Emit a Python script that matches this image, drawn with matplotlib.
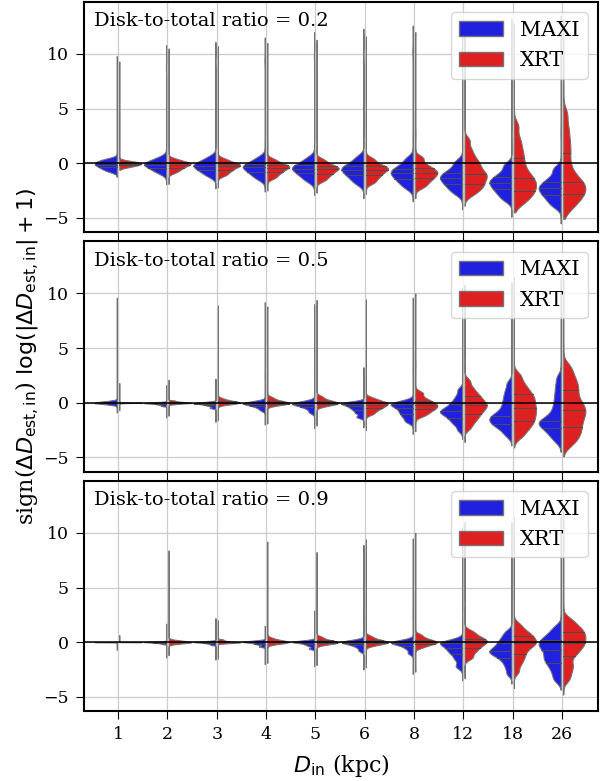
import matplotlib
matplotlib.use("Agg")
import matplotlib.pyplot as plt
from matplotlib.patches import Patch
import numpy as np
import pandas as pd
import seaborn as sns

DISTANCES = [1, 2, 3, 4, 5, 6, 8, 12, 18, 26]
RATIOS = [0.2, 0.5, 0.9]
INSTRUMENTS = ["MAXI", "XRT"]

# Evenly spaced quantiles of sign(dD) log(|dD| + 1) per input distance
# (deciles, or 5% steps for the wider distributions), plus the sparse
# tail values (extremes and the few diverging estimates).
MAXI_02_CORE = [
    [-0.74, -0.53, -0.37, -0.24, -0.12, 0.0, 0.1, 0.23, 0.4],
    [-0.89, -0.62, -0.43, -0.27, -0.12, -0.03, 0.08, 0.25, 0.52],
    [-1.15, -0.84, -0.61, -0.43, -0.25, -0.14, 0.0, 0.21, 0.55],
    [-1.4, -1.05, -0.8, -0.58, -0.38, -0.26, -0.1, 0.13, 0.51],
    [-1.59, -1.21, -0.94, -0.71, -0.5, -0.37, -0.19, 0.05, 0.47],
    [-1.82, -1.4, -1.09, -0.84, -0.6, -0.45, -0.24, 0.04, 0.53],
    [-2.18, -1.74, -1.42, -1.15, -0.9, -0.72, -0.49, -0.16, 0.39],
    [-2.69, -2.23, -1.9, -1.61, -1.35, -1.15, -0.89, -0.52, 0.1],
    [-3.27, -2.77, -2.4, -2.09, -1.8, -1.58, -1.29, -0.88, -0.19],
    [-3.84, -3.31, -2.92, -2.6, -2.3, -2.06, -1.74, -1.29, -0.53],
]
MAXI_02_TAIL = [
    [-1.25, 0.8, 9.8],
    [-1.9, 1.2, 8.6, 8.7, 8.8, 10.8],
    [-2.3, 1.4, 9.2, 9.3, 9.4, 11.1],
    [-2.6, 1.6, 9.3, 9.4, 9.5, 11.5],
    [-2.9, 1.8, 9.6, 9.75, 9.9, 12.0],
    [-3.2, 2.0, 9.8, 9.9, 10.0, 12.3],
    [-3.5, 2.2, 10.1, 10.2, 10.3, 12.6],
    [-4.2, 2.4, 10.4, 10.5, 12.9],
    [-4.9, 2.6, 10.8, 13.2],
    [-5.5, 2.8, 11.0, 13.5],
]
XRT_02_CORE = [
    [-0.36, -0.25, -0.18, -0.11, -0.05, 0.0, 0.05, 0.12, 0.2],
    [-0.82, -0.58, -0.41, -0.26, -0.12, -0.05, 0.03, 0.16, 0.36],
    [-1.08, -0.8, -0.59, -0.41, -0.25, -0.17, -0.06, 0.1, 0.36],
    [-1.32, -1.0, -0.77, -0.58, -0.4, -0.3, -0.17, 0.01, 0.32],
    [-1.55, -1.21, -0.96, -0.75, -0.55, -0.44, -0.28, -0.07, 0.29],
    [-1.75, -1.36, -1.07, -0.83, -0.6, -0.47, -0.29, -0.05, 0.37],
    [-2.12, -1.7, -1.39, -1.14, -0.9, -0.71, -0.47, -0.12, 0.47],
    [-2.9, -2.55, -2.3, -2.1, -1.9, -1.7, -1.5, -1.3, -1.15, -1.0,
     -0.8, -0.6, -0.35, -0.1, 0.15, 0.45, 0.85, 1.35, 2.1],
    [-3.7, -3.3, -3.0, -2.75, -2.5, -2.3, -2.05, -1.85, -1.62, -1.4,
     -1.15, -0.85, -0.45, 0.0, 0.5, 1.0, 1.6, 2.3, 3.4],
    [-4.2, -3.7, -3.35, -3.1, -2.85, -2.6, -2.35, -2.15, -1.95, -1.75,
     -1.45, -1.1, -0.6, 0.1, 0.9, 1.6, 2.4, 3.3, 4.5],
]
XRT_02_TAIL = [
    [-0.6, 0.5, 9.3],
    [-1.9, 1.0, 10.5],
    [-2.2, 1.2, 10.7],
    [-2.5, 1.5, 11.0],
    [-2.7, 1.8, 11.3],
    [-2.8, 2.2, 11.6],
    [-3.2, 2.6, 12.0],
    [-3.9, 3.5, 12.4],
    [-4.5, 4.5, 5.5, 12.8],
    [-5.1, 5.5, 7.0, 13.2],
]

MAXI_05_CORE = [
    [-0.06, -0.03, -0.015, -0.006, 0.0, 0.004, 0.01, 0.02, 0.04],
    [-0.29, -0.19, -0.13, -0.08, -0.05, -0.04, -0.02, 0.01, 0.05],
    [-0.48, -0.31, -0.21, -0.14, -0.08, -0.06, -0.03, 0.01, 0.08],
    [-0.66, -0.42, -0.28, -0.18, -0.1, -0.07, -0.02, 0.04, 0.14],
    [-0.87, -0.56, -0.38, -0.25, -0.15, -0.11, -0.05, 0.03, 0.17],
    [-1.3, -0.95, -0.7, -0.5, -0.35, -0.2, -0.1, -0.03, 0.08],
    [-1.7, -1.3, -1.0, -0.75, -0.5, -0.3, -0.15, -0.05, 0.15],
    [-2.5, -2.05, -1.8, -1.6, -1.4, -1.25, -1.1, -0.98, -0.88, -0.8,
     -0.7, -0.58, -0.45, -0.3, -0.12, 0.1, 0.35, 0.7, 1.2],
    [-3.0, -2.6, -2.3, -2.1, -1.95, -1.8, -1.65, -1.5, -1.38, -1.25,
     -1.1, -0.9, -0.65, -0.35, 0.0, 0.35, 0.75, 1.2, 1.8],
    [-3.5, -3.1, -2.8, -2.55, -2.35, -2.15, -2.0, -1.85, -1.75, -1.65,
     -1.45, -1.2, -0.9, -0.5, -0.05, 0.45, 1.0, 1.6, 2.3],
]
MAXI_05_TAIL = [
    [-0.9, 0.4, 9.6],
    [-1.35, 1.6],
    [-1.75, 2.2],
    [-2.0, 2.5, 9.2],
    [-2.3, 2.8, 9.0],
    [-2.25, 3.25],
    [-2.85, 3.0, 9.6],
    [-3.3, 2.5, 10.5],
    [-3.9, 2.8, 11.0],
    [-4.5, 3.2, 11.5],
]
XRT_05_CORE = [
    [-0.02, -0.01, -0.005, -0.002, 0.0, 0.002, 0.005, 0.01, 0.02],
    [-0.13, -0.07, -0.04, -0.02, 0.0, 0.03, 0.06, 0.11, 0.19],
    [-0.14, -0.07, -0.03, 0.0, 0.02, 0.07, 0.13, 0.22, 0.37],
    [-0.24, -0.14, -0.08, -0.03, 0.0, 0.07, 0.15, 0.28, 0.48],
    [-0.32, -0.18, -0.1, -0.04, 0.0, 0.08, 0.18, 0.32, 0.56],
    [-1.0, -0.7, -0.5, -0.35, -0.2, -0.08, 0.02, 0.15, 0.4],
    [-1.15, -0.84, -0.61, -0.43, -0.25, -0.1, 0.11, 0.39, 0.88],
    [-2.3, -1.85, -1.55, -1.3, -1.07, -0.88, -0.7, -0.52, -0.38, -0.25,
     -0.1, 0.05, 0.22, 0.4, 0.6, 0.82, 1.1, 1.45, 2.0],
    [-3.1, -2.6, -2.25, -1.95, -1.7, -1.45, -1.2, -0.95, -0.72, -0.5,
     -0.25, 0.0, 0.25, 0.5, 0.75, 1.05, 1.4, 1.85, 2.5],
    [-3.8, -3.3, -2.9, -2.55, -2.2, -1.85, -1.5, -1.2, -0.9, -0.65,
     -0.35, -0.05, 0.3, 0.75, 1.2, 1.6, 2.05, 2.6, 3.3],
]
XRT_05_TAIL = [
    [-0.7, 1.8],
    [-1.2, 2.1],
    [-1.6, 8.9],
    [-1.9, 8.8],
    [-2.1, 9.4],
    [-2.5, 9.45],
    [-2.6, 3.5, 10.0],
    [-3.6, 3.8, 10.8],
    [-4.1, 4.5, 11.5],
    [-4.9, 5.0, 12.0],
]

MAXI_09_CORE = [
    [-0.004, -0.002, -0.001, 0.0, 0.0, 0.0, 0.001, 0.002, 0.004],
    [-0.16, -0.09, -0.05, -0.02, 0.0, 0.01, 0.02, 0.04, 0.06],
    [-0.24, -0.14, -0.08, -0.03, 0.0, 0.01, 0.03, 0.06, 0.1],
    [-0.4, -0.23, -0.13, -0.06, 0.0, 0.02, 0.05, 0.09, 0.16],
    [-0.58, -0.34, -0.2, -0.1, -0.02, 0.01, 0.04, 0.09, 0.17],
    [-0.77, -0.46, -0.28, -0.15, -0.05, -0.02, 0.03, 0.09, 0.19],
    [-0.99, -0.61, -0.38, -0.22, -0.1, -0.06, 0.0, 0.08, 0.22],
    [-2.2, -1.55, -1.1, -0.8, -0.55, -0.3, -0.12, 0.0, 0.15],
    [-2.9, -2.4, -2.0, -1.7, -1.45, -1.28, -1.12, -1.0, -0.9, -0.8,
     -0.68, -0.55, -0.4, -0.22, -0.05, 0.15, 0.38, 0.65, 1.0],
    [-3.5, -3.0, -2.55, -2.2, -1.9, -1.65, -1.42, -1.2, -0.95, -0.7,
     -0.5, -0.32, -0.15, 0.02, 0.2, 0.4, 0.65, 0.95, 1.4],
]
MAXI_09_TAIL = [
    [-0.7],
    [-1.4, 1.7],
    [-1.6, 2.2],
    [-2.0, 1.5],
    [-2.2, 2.9],
    [-2.5, 2.5, 8.9],
    [-2.9, 2.5, 9.5],
    [-3.5, 2.5, 10.5],
    [-3.8, 2.0, 11.0],
    [-4.35, 2.2, 11.5],
]
XRT_09_CORE = [
    [-0.004, -0.002, -0.001, 0.0, 0.0, 0.0, 0.001, 0.002, 0.004],
    [-0.08, -0.05, -0.03, -0.01, 0.0, 0.02, 0.05, 0.09, 0.16],
    [-0.1, -0.06, -0.03, -0.01, 0.0, 0.03, 0.08, 0.14, 0.24],
    [-0.14, -0.07, -0.03, 0.0, 0.02, 0.07, 0.13, 0.22, 0.37],
    [-0.22, -0.12, -0.06, -0.01, 0.02, 0.08, 0.16, 0.28, 0.47],
    [-0.3, -0.16, -0.08, -0.02, 0.02, 0.09, 0.18, 0.31, 0.53],
    [-0.46, -0.26, -0.13, -0.05, 0.02, 0.11, 0.22, 0.39, 0.66],
    [-1.4, -0.9, -0.55, -0.28, -0.05, 0.12, 0.3, 0.55, 0.95],
    [-2.7, -2.1, -1.7, -1.4, -1.1, -0.85, -0.6, -0.4, -0.25, -0.12,
     0.02, 0.15, 0.3, 0.45, 0.6, 0.78, 0.98, 1.25, 1.65],
    [-3.4, -2.8, -2.3, -1.9, -1.3, -1.0, -0.7, -0.45, -0.25, -0.05,
     0.15, 0.35, 0.55, 0.75, 0.95, 1.15, 1.4, 1.7, 2.1],
]
XRT_09_TAIL = [
    [0.65],
    [-1.2, 8.4],
    [-1.5, 2.0],
    [-1.9, 9.2],
    [-2.1, 8.25],
    [-2.3, 9.4],
    [-2.7, 10.0],
    [-3.3, 3.5, 11.0],
    [-4.2, 3.0, 11.5],
    [-4.8, 3.2, 12.0],
]

PANELS = [
    (MAXI_02_CORE, MAXI_02_TAIL, XRT_02_CORE, XRT_02_TAIL),
    (MAXI_05_CORE, MAXI_05_TAIL, XRT_05_CORE, XRT_05_TAIL),
    (MAXI_09_CORE, MAXI_09_TAIL, XRT_09_CORE, XRT_09_TAIL),
]

# each quantile stands for this many estimates, each tail value for one
CORE_WEIGHT = 60

COLORS = ["blue", "red"]
LINE_GRAY = "0.45"


def build_frame(cores, tails, instrument):
    frames = []
    for d, core, tail in zip(DISTANCES, cores, tails):
        vals = np.concatenate([np.repeat(core, CORE_WEIGHT), tail])
        frames.append(pd.DataFrame({"D": str(d), "value": vals, "inst": instrument}))
    return pd.concat(frames, ignore_index=True)


plt.rcParams["font.family"] = "serif"
plt.rcParams["font.size"] = 12.5
for axis in ("xtick", "ytick"):
    plt.rcParams[f"{axis}.major.size"] = 6
    plt.rcParams[f"{axis}.major.pad"] = 5

fig, axes = plt.subplots(3, 1, figsize=(6.06, 7.81), dpi=100, sharex=True)
fig.subplots_adjust(left=84 / 606, right=598 / 606, top=779 / 781,
                    bottom=70 / 781, hspace=0.041)

for ax, ratio, (mc, mt, xc, xt) in zip(axes, RATIOS, PANELS):
    df = pd.concat([build_frame(mc, mt, "MAXI"), build_frame(xc, xt, "XRT")],
                   ignore_index=True)
    sns.violinplot(data=df, x="D", y="value", hue="inst",
                   order=[str(d) for d in DISTANCES], hue_order=INSTRUMENTS,
                   split=True, inner="quart", palette=COLORS,
                   density_norm="width", cut=0, width=1.0, gap=0.1,
                   linewidth=0.75, linecolor=LINE_GRAY, bw_adjust=1.0,
                   legend=False, ax=ax)
    # quartile lines drawn solid and thin
    for line in ax.lines:
        line.set_linestyle("-")
        line.set_linewidth(0.7)
        line.set_color("0.3")
    ax.grid(True, color="0.8", lw=0.9)
    ax.set_axisbelow(True)
    ax.axhline(0, color="k", lw=1.1, zorder=5)
    ax.set_xlim(-0.69, 9.73)
    ax.set_ylim(-6.3, 14.75)
    ax.set_yticks([-5, 0, 5, 10])
    ax.set_xlabel("")
    ax.set_ylabel("")
    for sp in ax.spines.values():
        sp.set_linewidth(1.5)
    ax.text(0.02, 0.955, f"Disk-to-total ratio = {ratio}", transform=ax.transAxes,
            ha="left", va="top", fontsize=14)
    handles = [Patch(facecolor=sns.desaturate(c, 0.75), edgecolor=LINE_GRAY, label=lab)
               for c, lab in zip(COLORS, INSTRUMENTS)]
    ax.legend(handles=handles, loc="upper right", fontsize=15,
              handlelength=2.1, labelspacing=0.55)

axes[-1].set_xticks(range(len(DISTANCES)))
axes[-1].set_xticklabels([str(d) for d in DISTANCES])
axes[-1].set_xlabel(r"$D_{\rm in}$ (kpc)", fontsize=16, labelpad=6)
fig.text(0.045, (axes[1].get_position().y0 + axes[1].get_position().y1) / 2,
         r"sign($\Delta D_{\rm est,in}$) $\log(|\Delta D_{\rm est,in}| + 1)$",
         rotation=90, ha="center", va="center", fontsize=16)

fig.savefig("out.png", dpi=100)
